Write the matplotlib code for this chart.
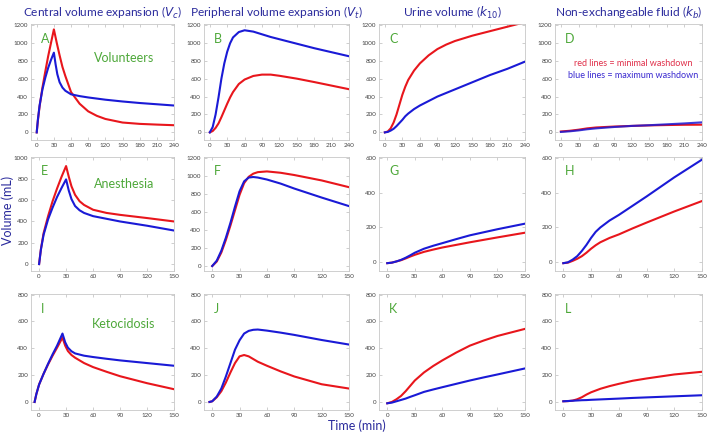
import numpy as np
import matplotlib.pyplot as plt

# ---- data (time in min, volume in mL) ----
# volunteers
tA_red = [0, 2, 5, 10, 15, 20, 25, 30, 35, 40, 45, 50, 60, 75, 90, 105, 120, 150, 180, 210, 240]
A_red = [0, 130, 290, 500, 680, 850, 1000, 1150, 1000, 860, 730, 630, 450, 320, 235, 185, 150, 110, 95, 87, 80]
tA_blue = [0, 2, 5, 10, 15, 20, 25, 30, 33, 36, 40, 45, 50, 60, 75, 90, 120, 150, 180, 210, 240]
A_blue = [0, 140, 300, 480, 610, 720, 810, 890, 760, 650, 560, 500, 465, 425, 405, 390, 365, 345, 328, 314, 300]

tB = [0, 5, 10, 15, 20, 25, 30, 35, 40, 50, 60, 75, 90, 105, 120, 150, 180, 210, 240]
B_red = [0, 15, 50, 100, 170, 245, 320, 390, 450, 540, 590, 630, 645, 645, 632, 600, 562, 522, 482]
B_blue = [0, 60, 200, 390, 600, 770, 900, 995, 1060, 1120, 1140, 1125, 1095, 1065, 1040, 990, 940, 895, 850]

tC = [0, 5, 10, 15, 20, 25, 30, 35, 40, 50, 60, 75, 90, 105, 120, 150, 180, 210, 240]
C_red = [0, 10, 45, 110, 200, 310, 420, 510, 585, 690, 770, 860, 930, 980, 1020, 1080, 1130, 1180, 1230]
C_blue = [0, 5, 20, 40, 70, 105, 140, 180, 210, 260, 300, 350, 400, 440, 480, 560, 640, 710, 790]

tD = [0, 15, 30, 45, 60, 90, 120, 150, 180, 210, 240]
D_red = [10, 18, 30, 45, 55, 65, 72, 78, 82, 85, 86]
D_blue = [5, 12, 22, 35, 45, 60, 72, 80, 90, 100, 112]

# anesthesia
tE = [0, 2, 5, 10, 15, 20, 25, 30, 33, 36, 40, 45, 50, 60, 75, 90, 120, 150]
E_red = [0, 140, 290, 450, 590, 710, 820, 920, 820, 730, 650, 590, 555, 510, 480, 462, 432, 400]
E_blue = [0, 135, 275, 420, 530, 630, 715, 795, 690, 610, 545, 505, 480, 450, 425, 400, 360, 315]

tF = [0, 5, 10, 15, 20, 25, 30, 35, 40, 45, 50, 60, 75, 90, 120, 150]
F_red = [0, 50, 150, 290, 450, 620, 790, 920, 990, 1025, 1042, 1050, 1035, 1010, 950, 875]
F_blue = [0, 60, 170, 315, 480, 660, 830, 940, 982, 988, 982, 960, 915, 860, 760, 665]

tG = [0, 5, 10, 15, 20, 25, 30, 40, 50, 60, 75, 90, 120, 150]
G_red = [-5, -2, 5, 12, 22, 33, 43, 60, 73, 85, 100, 115, 143, 170]
G_blue = [-5, -2, 5, 14, 26, 40, 55, 78, 95, 110, 133, 155, 190, 222]

tH = [0, 5, 10, 15, 20, 25, 30, 35, 40, 50, 60, 75, 90, 120, 150]
H_red = [-5, -2, 8, 20, 35, 55, 78, 98, 115, 140, 160, 195, 228, 292, 352]
H_blue = [-5, 0, 15, 35, 65, 100, 140, 175, 200, 240, 272, 325, 378, 488, 590]

# ketoacidosis
tI_red = [-5, -3, 0, 5, 10, 15, 20, 26, 29, 32, 36, 40, 50, 60, 75, 90, 120, 150]
I_red = [0, 60, 130, 210, 280, 345, 405, 480, 420, 380, 350, 330, 290, 260, 225, 192, 140, 95]
tI_blue = [-5, -3, 0, 5, 10, 15, 20, 26, 29, 32, 36, 40, 50, 60, 75, 90, 120, 150]
I_blue = [0, 60, 130, 210, 285, 355, 420, 510, 445, 405, 378, 362, 345, 335, 322, 310, 290, 270]

tJ = [-3, 0, 5, 10, 15, 20, 25, 30, 35, 40, 45, 50, 60, 75, 90, 120, 150]
J_red = [0, 5, 35, 80, 145, 220, 290, 340, 350, 340, 320, 300, 270, 228, 190, 132, 100]
J_blue = [0, 5, 40, 100, 190, 290, 390, 460, 510, 530, 538, 540, 532, 517, 500, 462, 428]

tK = [0, 5, 10, 15, 20, 25, 30, 40, 50, 60, 75, 90, 105, 120, 150]
K_red = [-10, 0, 20, 45, 80, 120, 160, 220, 268, 310, 368, 420, 458, 492, 545]
K_blue = [-10, -5, 5, 15, 25, 38, 50, 75, 93, 110, 135, 160, 183, 205, 250]

tL = [0, 5, 10, 15, 20, 25, 30, 40, 50, 60, 75, 90, 120, 150]
L_red = [5, 6, 10, 20, 35, 55, 72, 98, 118, 135, 158, 175, 205, 225]
L_blue = [5, 7, 9, 11, 13, 14, 16, 19, 22, 25, 30, 34, 42, 50]

titles = ['Central volume expansion ($V_c$)', 'Peripheral volume expansion ($V_t$)',
          'Urine volume ($k_{10}$)', 'Non-exchangeable fluid ($k_b$)']
groups = ['Volunteers', 'Anesthesia', 'Ketocidosis']
letters = ['A', 'B', 'C', 'D', 'E', 'F', 'G', 'H', 'I', 'J', 'K', 'L']

panels = [
    [(tA_red, A_red, tA_blue, A_blue), (tB, B_red, tB, B_blue), (tC, C_red, tC, C_blue), (tD, D_red, tD, D_blue)],
    [(tE, E_red, tE, E_blue), (tF, F_red, tF, F_blue), (tG, G_red, tG, G_blue), (tH, H_red, tH, H_blue)],
    [(tI_red, I_red, tI_blue, I_blue), (tJ, J_red, tJ, J_blue), (tK, K_red, tK, K_blue), (tL, L_red, tL, L_blue)],
]

ylims = [
    [(-85, 1210), (-85, 1210), (-85, 1210), (-85, 1210)],
    [(-65, 1005), (-55, 1210), (-50, 605), (-50, 605)],
    [(-60, 805), (-60, 805), (-60, 805), (-60, 805)],
]
yticks = [
    [np.arange(0, 1201, 200)] * 4,
    [np.arange(0, 1001, 200), np.arange(0, 1201, 200), np.arange(0, 601, 200), np.arange(0, 601, 200)],
    [np.arange(0, 801, 200)] * 4,
]

RED = '#e8161c'
BLUE = '#1a1ad6'
GREEN = '#4ea83a'
NAVY = '#2a2a9c'
plt.rcParams['font.family'] = ['Lato', 'DejaVu Sans']

W, H = 708, 434
fig = plt.figure(figsize=(W / 100, H / 100), dpi=100)

col_x = [(31, 174), (204, 349), (379, 525), (555, 702)]
row_y = [(24, 140), (157, 271), (294, 410)]
group_y = [0.71, 0.76, 0.74]

for r in range(3):
    for c in range(4):
        x0, x1 = col_x[c]
        y0, y1 = row_y[r]
        ax = fig.add_axes([x0 / W, 1 - y1 / H, (x1 - x0) / W, (y1 - y0) / H])
        tr, vr, tb, vb = panels[r][c]
        ax.plot(tr, vr, color=RED, lw=1.5)
        # in D the two curves overlap, blue drawn slightly see-through
        ax.plot(tb, vb, color=BLUE, lw=1.5, alpha=0.85 if (r, c) == (0, 3) else 1)
        if r == 0:
            ax.set_xlim(-10, 240)
            ax.set_xticks(np.arange(0, 241, 30))
        else:
            ax.set_xlim(-9, 150)
            ax.set_xticks(np.arange(0, 151, 30))
        ax.set_ylim(*ylims[r][c])
        ax.set_yticks(yticks[r][c])
        ax.tick_params(labelsize=4.5, labelcolor='#444444', colors='#bbbbbb', direction='in',
                       length=2, width=0.5, top=True, right=True, pad=2)
        for s in ax.spines.values():
            s.set_color('#c8c8c8')
            s.set_linewidth(0.6)
        ax.text(0.07, 0.84, letters[r * 4 + c], transform=ax.transAxes, color=GREEN, fontsize=9)
        if c == 0:
            ax.text(0.65, group_y[r], groups[r], transform=ax.transAxes, color=GREEN,
                    fontsize=9, ha='center', va='center')
        if r == 0:
            ax.set_title(titles[c], color=NAVY, fontsize=8.6, pad=5)
        if (r, c) == (0, 3):
            ax.text(0.53, 0.66, 'red lines = minimal washdown', transform=ax.transAxes,
                    color='#e0304a', fontsize=6.5, ha='center', va='center')
            ax.text(0.53, 0.555, 'blue lines = maximum washdown', transform=ax.transAxes,
                    color='#3a2ad0', fontsize=6.5, ha='center', va='center')

fig.text(8 / W, 1 - 210 / H, 'Volume (mL)', rotation=90, color=NAVY, fontsize=9, ha='center', va='center')
fig.text(357 / W, 1 - 426 / H, 'Time (min)', color=NAVY, fontsize=9, ha='center', va='center')

fig.savefig('out.png', dpi=100)
